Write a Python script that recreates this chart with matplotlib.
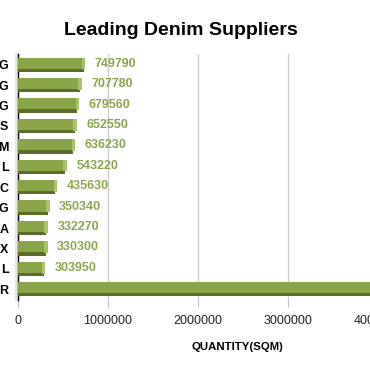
import matplotlib
matplotlib.use('Agg')
import matplotlib.pyplot as plt
from matplotlib.patches import Rectangle

plt.rcParams['font.family'] = ['Liberation Sans', 'DejaVu Sans']

# Data (supplier names are cut off in the source, only last letters visible)
suppliers = ['G', 'G', 'G', 'S', 'M', 'L', 'C', 'G', 'A', 'X', 'L', 'R']
quantities = [749790, 707780, 679560, 652550, 636230, 543220, 435630,
              350340, 332270, 330300, 303950, 4300000]
show_label = [True] * 11 + [False]
xticks = [0, 1000000, 2000000, 3000000, 4000000]

face = '#8aa44a'
shadow = '#5a6d2b'
cap = '#a9c26c'
label_col = '#8ca64e'

fig = plt.figure(figsize=(3.7, 3.71), dpi=100)
ax = fig.add_axes([0.0486, 0.1927, 1.216, 0.6604])

ypos = list(range(len(suppliers)))
h = 0.70       # full bar thickness (rows)
sh = 0.16      # dark bottom strip
capw = 40000   # light end cap width (data units)

for y, v in zip(ypos, quantities):
    top = y - h / 2
    fh = h - sh
    # main face
    ax.barh(top + fh / 2, v, height=fh, color=face, zorder=3)
    # dark bottom edge
    ax.barh(top + fh + sh / 2, v - capw * 0.5, height=sh, color=shadow,
            zorder=4)
    # light end cap
    ax.barh(top + fh / 2 + 0.02, capw, left=v - capw, height=fh + 0.04,
            color=cap, zorder=4)

for y, v, s in zip(ypos, quantities, show_label):
    if s:
        ax.text(v + 105000, y - 0.05, f'{v}', va='center', ha='left',
                color=label_col, fontweight='bold', fontsize=9, zorder=5)

ax.set_xlim(0, 5000000)
ax.set_ylim(len(suppliers) - 0.5, -0.5)
ax.set_yticks(ypos)
ax.set_yticklabels(suppliers, fontweight='bold', fontsize=9)
ax.set_xticks(xticks)
ax.set_xticklabels([str(t) for t in xticks], fontsize=9, color='#222222')
ax.tick_params(axis='y', length=0, pad=7)
ax.tick_params(axis='x', length=5, color='#bbbbbb', pad=6)
ax.grid(axis='x', color='#cccccc', linewidth=1, zorder=0)
for s in ['top', 'right', 'bottom']:
    ax.spines[s].set_visible(False)
ax.spines['left'].set_color('black')
ax.spines['left'].set_linewidth(1)
ax.spines['left'].set_zorder(2)

# faint 3D wall strip on the left
ax.add_patch(Rectangle((-0.007, 0), 0.007, 1, transform=ax.transAxes,
                       color='#e6e6e6', clip_on=False, zorder=1))

fig.text(0.49, 0.918, 'Leading Denim Suppliers', ha='center', va='center',
         fontsize=14, fontweight='bold')
fig.text(0.643, 0.065, 'QUANTITY(SQM)', ha='center', va='center',
         fontsize=8.2, fontweight='bold')

fig.savefig('out.png', dpi=100)
